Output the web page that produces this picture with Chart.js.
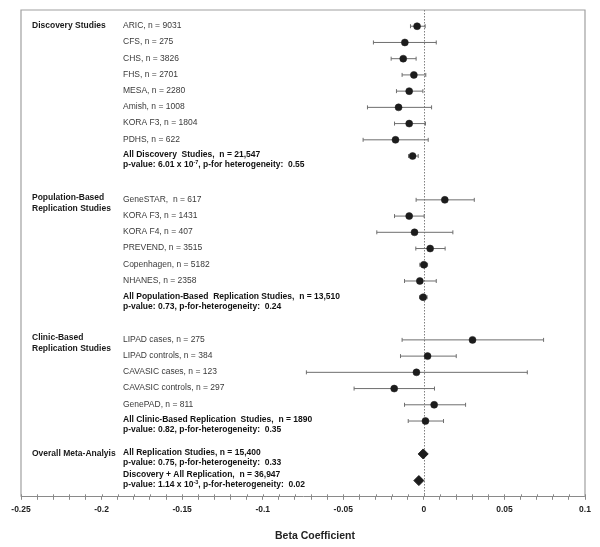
<!DOCTYPE html>
<html>
<head>
<meta charset="utf-8">
<script src="https://cdn.jsdelivr.net/npm/chart.js@4/dist/chart.umd.min.js"></script>
<style>
  html, body { margin: 0; padding: 0; background: #fff; }
  #wrap { width: 600px; height: 547px; }
</style>
</head>
<body>
<div id="wrap"><canvas id="forest"></canvas></div>
<script>
// rows of the forest plot, top to bottom
const rowLabels = [
  'ARIC, n = 9031', 'CFS, n = 275', 'CHS, n = 3826', 'FHS, n = 2701', 'MESA, n = 2280',
  'Amish, n = 1008', 'KORA F3, n = 1804', 'PDHS, n = 622',
  'All Discovery  Studies,  n = 21,547',
  'GeneSTAR,  n = 617', 'KORA F3, n = 1431', 'KORA F4, n = 407', 'PREVEND, n = 3515',
  'Copenhagen, n = 5182', 'NHANES, n = 2358',
  'All Population-Based  Replication Studies,  n = 13,510',
  'LIPAD cases, n = 275', 'LIPAD controls, n = 384', 'CAVASIC cases, n = 123',
  'CAVASIC controls, n = 297', 'GenePAD, n = 811',
  'All Clinic-Based Replication  Studies,  n = 1890',
  'All Replication Studies, n = 15,400',
  'Discovery + All Replication,  n = 36,947'
];
const rowGroup = [0,0,0,0,0,0,0,0,0, 1,1,1,1,1,1,1, 2,2,2,2,2,2, 3,3];
const rowKind = ['study','study','study','study','study','study','study','study','pooled',
  'study','study','study','study','study','study','pooled',
  'study','study','study','study','study','pooled',
  'meta','meta'];
const beta   = [-0.0042,-0.0118,-0.0128,-0.0062,-0.0091,-0.0157,-0.0091,-0.0176,-0.0070,
  0.0130,-0.0091,-0.0058,0.0039,0.0000,-0.0025,-0.0004,
  0.0302,0.0023,-0.0046,-0.0184,0.0064,0.0010,
  -0.0004,-0.0031];
const ciLow  = [-0.0083,-0.0313,-0.0203,-0.0135,-0.0170,-0.0350,-0.0182,-0.0377,-0.0095,
  -0.0048,-0.0182,-0.0292,-0.0050,-0.0025,-0.0120,-0.0027,
  -0.0135,-0.0145,-0.0729,-0.0433,-0.0120,-0.0097,
  null,null];
const ciHigh = [0.0008,0.0077,-0.0048,0.0012,-0.0006,0.0048,0.0010,0.0027,-0.0035,
  0.0313,0.0002,0.0180,0.0132,0.0023,0.0077,0.0020,
  0.0743,0.0201,0.0642,0.0066,0.0259,0.0122,
  null,null];
// second text line of pooled rows, ^{..} = superscript
const statLines = {
  8: 'p-value: 6.01 x 10^{-7}, p-for heterogeneity:  0.55',
  15: 'p-value: 0.73, p-for-heterogeneity:  0.24',
  21: 'p-value: 0.82, p-for-heterogeneity:  0.35',
  22: 'p-value: 0.75, p-for-heterogeneity:  0.33',
  23: 'p-value: 1.14 x 10^{-3}, p-for-heterogeneity:  0.02'
};
const groupNames = [
  ['Discovery Studies'],
  ['Population-Based', 'Replication Studies'],
  ['Clinic-Based', 'Replication Studies'],
  ['Overall Meta-Analyis']
];
const tickValues = [-0.25, -0.2, -0.15, -0.1, -0.05, 0, 0.05, 0.1];
const tickLabels = ['-0.25', '-0.2', '-0.15', '-0.1', '-0.05', '0', '0.05', '0.1'];
const axisTitle = 'Beta Coefficient';

// vertical layout (row units)
const groupStart = [1, 11.7, 20.33, 27.36];
const groupStep = [1, 1, 1, 1.64];
const rowY = [];
let k = 0;
rowGroup.forEach((g, i) => {
  if (i > 0 && rowGroup[i - 1] !== g) k = 0;
  rowY.push(groupStart[g] + k * groupStep[g]);
  k++;
});

const FONT = '"Liberation Sans", Arial, sans-serif';
const BAR = '#6e6e6e';

const datasets = [];
rowY.forEach((y, i) => {
  if (ciLow[i] === null) return;
  datasets.push({
    data: [{x: ciLow[i], y: y}, {x: ciHigh[i], y: y}],
    showLine: true,
    borderColor: BAR,
    borderWidth: 1,
    pointStyle: 'line',
    rotation: 90,
    pointRadius: 2,
    pointBorderColor: BAR,
    pointBorderWidth: 1,
    order: 2
  });
});
datasets.push({
  data: rowY.map((y, i) => ({x: beta[i], y: y})).filter((p, i) => rowKind[i] !== 'meta'),
  pointStyle: 'circle',
  pointRadius: 3.5,
  pointBackgroundColor: '#1c1c1c',
  pointBorderColor: '#1c1c1c',
  pointBorderWidth: 0.5,
  order: 0
});
datasets.push({
  data: rowY.map((y, i) => ({x: beta[i], y: y})).filter((p, i) => rowKind[i] === 'meta'),
  pointStyle: 'rectRot',
  pointRadius: 5,
  pointBackgroundColor: '#1c1c1c',
  pointBorderColor: '#1c1c1c',
  pointBorderWidth: 1,
  order: 0
});

function drawRich(ctx, text, x, y, size) {
  // handles ^{..} superscripts
  const parts = text.split(/\^\{|\}/);
  let cx = x;
  parts.forEach((p, j) => {
    const sup = j % 2 === 1;
    ctx.font = 'bold ' + (sup ? size * 0.65 : size) + 'px ' + FONT;
    ctx.fillText(p, cx, sup ? y - size * 0.35 : y);
    cx += ctx.measureText(p).width;
  });
}

const forestText = {
  id: 'forestText',
  beforeDraw(chart) {
    const c = chart.ctx;
    c.save();
    c.fillStyle = '#fff';
    c.fillRect(0, 0, chart.width, chart.height);
    c.restore();
  },
  beforeDatasetsDraw(chart) {
    const {ctx, chartArea: a, scales: {x}} = chart;
    ctx.save();
    // frame
    ctx.strokeStyle = '#a0a0a0';
    ctx.lineWidth = 1.2;
    ctx.beginPath();
    ctx.moveTo(a.left, a.bottom);
    ctx.lineTo(a.left, a.top);
    ctx.lineTo(a.right, a.top);
    ctx.lineTo(a.right, a.bottom);
    ctx.stroke();
    // zero line
    const x0 = Math.round(x.getPixelForValue(0)) + 0.5;
    ctx.strokeStyle = '#808080';
    ctx.lineWidth = 1;
    ctx.setLineDash([1.5, 1.5]);
    ctx.beginPath();
    ctx.moveTo(x0, a.top);
    ctx.lineTo(x0, a.bottom);
    ctx.stroke();
    ctx.setLineDash([]);
    // upper half of the tick marks
    ctx.strokeStyle = '#8a8a8a';
    x.ticks.forEach(t => {
      const px = Math.round(x.getPixelForValue(t.value)) + 0.5;
      ctx.beginPath();
      ctx.moveTo(px, a.bottom - 2.5);
      ctx.lineTo(px, a.bottom);
      ctx.stroke();
    });
    ctx.restore();
  },
  afterDraw(chart) {
    const {ctx, chartArea: a, scales: {y}} = chart;
    const size = 8.5;
    ctx.save();
    ctx.textBaseline = 'middle';
    ctx.textAlign = 'left';
    // group headings
    groupNames.forEach((lines, g) => {
      const first = rowY[rowGroup.indexOf(g)];
      const py = y.getPixelForValue(first);
      const shift = lines.length > 1 ? -2.5 : -0.5;
      ctx.fillStyle = '#1a1a1a';
      ctx.font = 'bold ' + size + 'px ' + FONT;
      lines.forEach((l, j) => ctx.fillText(l, 32, py + shift + j * 11.5));
    });
    // row labels
    rowLabels.forEach((lab, i) => {
      const py = y.getPixelForValue(rowY[i]);
      if (rowKind[i] === 'study') {
        ctx.fillStyle = '#3a3a3a';
        ctx.font = size + 'px ' + FONT;
        ctx.fillText(lab, 123, py - 0.5);
      } else {
        const shift = i === rowLabels.length - 1 ? -5.5 : -1;
        ctx.fillStyle = '#111';
        ctx.font = 'bold ' + size + 'px ' + FONT;
        ctx.fillText(lab, 123, py + shift);
        drawRich(ctx, statLines[i], 123, py + shift + 10, size);
      }
    });
    // axis title, a little right of centre as in the original
    ctx.textAlign = 'center';
    ctx.fillStyle = '#222';
    ctx.font = 'bold 10.5px ' + FONT;
    ctx.fillText(axisTitle, (a.left + a.right) / 2 + 12, a.bottom + 39);
    ctx.restore();
  }
};

new Chart(document.getElementById('forest'), {
  type: 'scatter',
  data: {datasets: datasets},
  options: {
    responsive: true,
    maintainAspectRatio: false,
    animation: false,
    events: [],
    layout: {padding: {left: 21, right: 15, top: 10, bottom: 27}},
    plugins: {legend: {display: false}, tooltip: {enabled: false}},
    scales: {
      x: {
        type: 'linear',
        min: -0.25,
        max: 0.1,
        border: {display: true, color: '#8a8a8a', width: 1},
        grid: {drawOnChartArea: false, drawTicks: true, tickLength: 3, color: '#8a8a8a'},
        ticks: {
          stepSize: 0.01,
          autoSkip: false,
          maxRotation: 0,
          padding: 5,
          color: '#222',
          font: {family: FONT, size: 8.5, weight: 'bold'},
          callback: v => {
            const i = tickValues.findIndex(t => Math.abs(t - v) < 1e-9);
            return i < 0 ? '' : tickLabels[i];
          }
        }
      },
      y: {
        type: 'linear',
        display: false,
        reverse: true,
        min: 0,
        max: 30
      }
    }
  },
  plugins: [forestText]
});
</script>
</body>
</html>
